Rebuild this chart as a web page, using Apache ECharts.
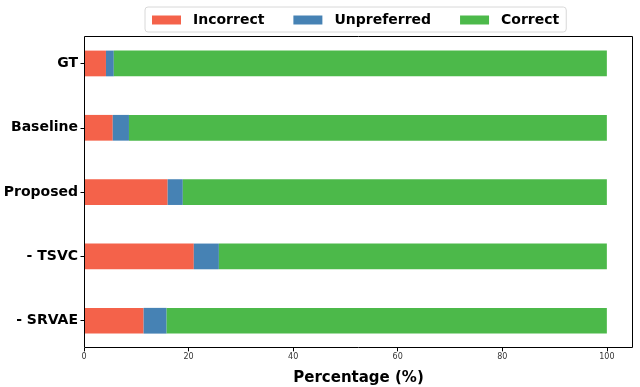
<!DOCTYPE html>
<html>
<head>
<meta charset="utf-8">
<script src="https://cdn.jsdelivr.net/npm/echarts@6/dist/echarts.min.js"></script>
<style>html,body{margin:0;padding:0;background:#fff}#c{width:640px;height:387px}</style>
</head>
<body>
<div id="c"></div>
<script>
var categories = ['GT', 'Baseline', 'Proposed', '- TSVC', '- SRVAE'];
var incorrect = [4.2, 5.5, 16.0, 21.0, 11.4];
var unpreferred = [1.5, 3.1, 2.9, 4.8, 4.4];
var correct = [94.3, 91.4, 81.1, 74.2, 84.2];
var xTicks = [0, 20, 40, 60, 80, 100];
var seriesNames = ['Incorrect', 'Unpreferred', 'Correct'];
var colors = ['#f4624a', '#4682b4', '#4cb94a'];

var chart = echarts.init(document.getElementById('c'), null, {renderer: 'canvas'});
var font = 'DejaVu Sans';
function mk(name, data, color) {
  return {
    name: name, type: 'bar', stack: 'total', data: data,
    barWidth: '40%', itemStyle: {color: color}, emphasis: {disabled: true}
  };
}
chart.setOption({
  animation: false,
  textStyle: {fontFamily: font},
  color: colors,
  legend: {
    data: seriesNames,
    left: 145, top: 7,
    itemWidth: 29, itemHeight: 9, itemGap: 29,
    icon: 'rect',
    padding: [6, 7, 5, 7],
    borderColor: '#d8d8d8', borderWidth: 1, borderRadius: 3,
    backgroundColor: '#fff',
    textStyle: {fontFamily: font, fontWeight: 'bold', fontSize: 14, color: '#000', padding: [0, 0, 0, 7]}
  },
  grid: {left: 84, right: 7, top: 31.3, bottom: 387 - 352.9, containLabel: false, outerBoundsMode: 'none'},
  xAxis: {
    type: 'value', min: 0, max: 105, offset: -5,
    axisLine: {show: false},
    axisTick: {show: true, length: 3.5, lineStyle: {color: '#000'}, customValues: xTicks},
    axisLabel: {fontSize: 8, color: '#333', margin: 5, customValues: xTicks, fontFamily: font},
    splitLine: {show: false},
    name: 'Percentage (%)', nameLocation: 'middle', nameGap: 23,
    nameTextStyle: {fontFamily: font, fontWeight: 'bold', fontSize: 15, color: '#000'}
  },
  yAxis: {
    type: 'category', data: categories, inverse: true,
    axisLine: {show: false},
    axisTick: {show: true, alignWithLabel: true, length: 3.5, lineStyle: {color: '#000'}},
    axisLabel: {fontFamily: font, fontWeight: 'bold', fontSize: 14, color: '#000', margin: 6}
  },
  graphic: [{
    type: 'rect', shape: {x: 84.5, y: 36.5, width: 548, height: 311},
    style: {fill: 'none', stroke: '#000', lineWidth: 1}, silent: true, z: 10
  }],
  series: [
    mk(seriesNames[0], incorrect, colors[0]),
    mk(seriesNames[1], unpreferred, colors[1]),
    mk(seriesNames[2], correct, colors[2])
  ]
});
</script>
</body>
</html>
